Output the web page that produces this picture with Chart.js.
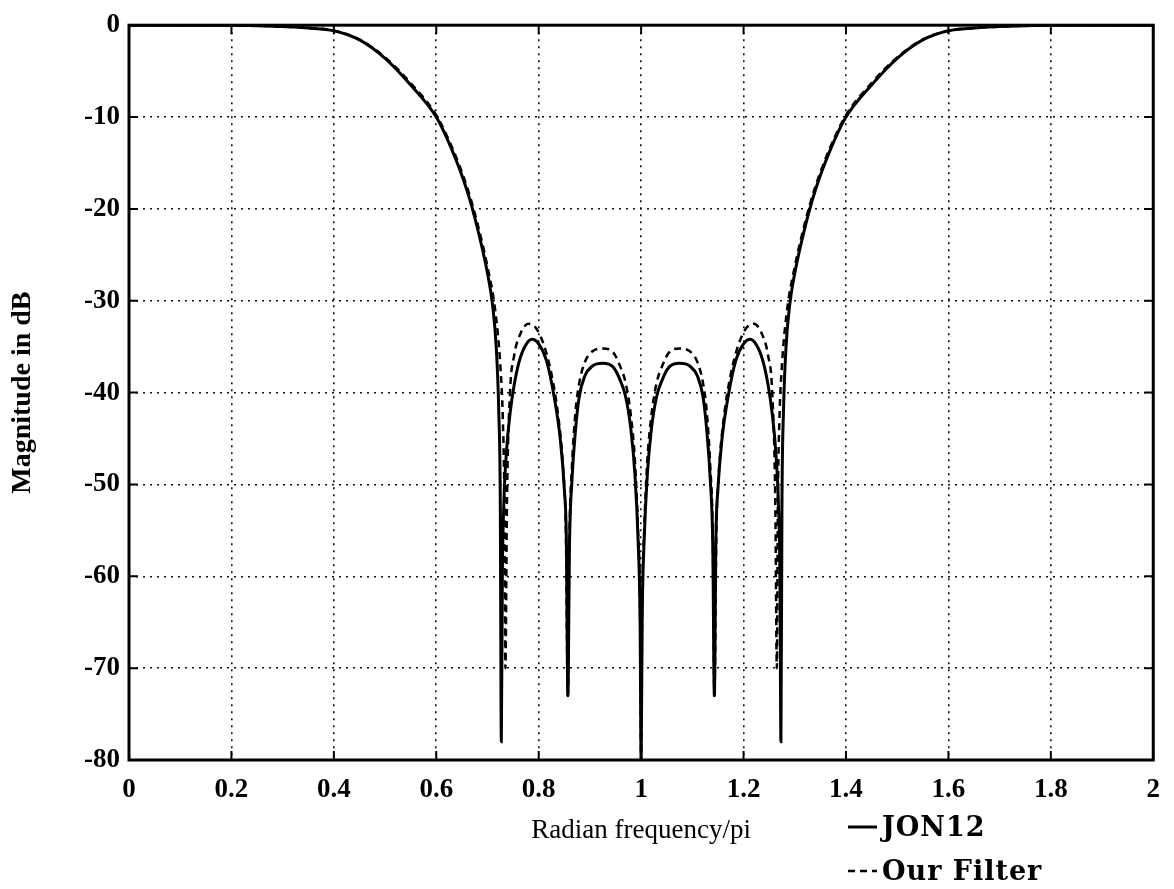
<!DOCTYPE html>
<html lang="en">
<head>
  <meta charset="UTF-8">
  <title>Magnitude Response</title>
  <script src="https://cdn.jsdelivr.net/npm/chart.js"></script>
  <style>
    body { margin: 0; background: #fff; }
    canvas { display: block; }
  </style>
</head>
<body>
  <canvas id="magChart" width="1174" height="889"></canvas>
  <script>
    // JON12 response (frequency / pi, dB)
    const jonFreq = [0, 0.1, 0.2, 0.25, 0.3, 0.35, 0.4, 0.45, 0.5, 0.55, 0.6, 0.63, 0.66, 0.68, 0.7, 0.71, 0.717, 0.722, 0.725, 0.727,
      0.729, 0.732, 0.737, 0.744, 0.752, 0.762, 0.775, 0.787, 0.8, 0.815, 0.83, 0.842, 0.85, 0.854, 0.857,
      0.86, 0.865, 0.872, 0.879, 0.89, 0.905, 0.925, 0.945, 0.958, 0.97, 0.98, 0.988, 0.994, 0.998, 1.0,
      1.002, 1.006, 1.012, 1.02, 1.03, 1.042, 1.055, 1.075, 1.095, 1.11, 1.121, 1.128, 1.135, 1.14, 1.143,
      1.146, 1.15, 1.158, 1.17, 1.185, 1.2, 1.213, 1.225, 1.238, 1.248, 1.256, 1.263, 1.268, 1.271, 1.273,
      1.275, 1.278, 1.283, 1.29, 1.3, 1.32, 1.34, 1.37, 1.4, 1.45, 1.5, 1.55, 1.6, 1.65, 1.7, 1.75, 1.8, 1.9, 2];
    const jonMag = [0, 0, 0, -0.05, -0.15, -0.3, -0.6, -1.6, -3.6, -6.5, -10, -13.5, -18, -22, -27, -30.5, -35, -42, -52, -78,
      -60, -52, -46.5, -42.3, -39.2, -36.6, -34.8, -34.2, -34.7, -36.5, -40.4, -45, -50.5, -56, -73,
      -57, -49.5, -44, -40.5, -38.2, -37.1, -36.8, -37.2, -38.5, -40.5, -44, -49, -56, -65, -80,
      -65, -56, -49, -44, -40.5, -38.5, -37.2, -36.8, -37.1, -38.2, -40.5, -44, -49.5, -57, -73,
      -56, -50.5, -45, -40.4, -36.5, -34.7, -34.2, -34.8, -36.6, -39.2, -42.3, -46.5, -52, -60, -78,
      -52, -42, -35, -30.5, -27, -22, -18, -13.5, -10, -6.5, -3.6, -1.6, -0.6, -0.3, -0.15, -0.05, 0, 0, 0];

    // Our filter
    const ourFreq = [0, 0.1, 0.2, 0.25, 0.3, 0.35, 0.4, 0.45, 0.5, 0.55, 0.6, 0.63, 0.66, 0.68, 0.7, 0.715, 0.725, 0.73, 0.733, 0.735,
      0.738, 0.744, 0.752, 0.765, 0.78, 0.795, 0.81, 0.825, 0.838, 0.848, 0.853, 0.857,
      0.86, 0.865, 0.872, 0.879, 0.89, 0.905, 0.925, 0.945, 0.958, 0.97, 0.98, 0.988, 0.994, 0.998, 1.0,
      1.002, 1.006, 1.012, 1.02, 1.03, 1.042, 1.055, 1.075, 1.095, 1.11, 1.121, 1.128, 1.135, 1.14, 1.143,
      1.147, 1.152, 1.162, 1.175, 1.19, 1.205, 1.22, 1.235, 1.248, 1.256, 1.262, 1.265,
      1.267, 1.27, 1.275, 1.285, 1.3, 1.32, 1.34, 1.37, 1.4, 1.45, 1.5, 1.55, 1.6, 1.65, 1.7, 1.75, 1.8, 1.9, 2];
    const ourMag = [0, 0, 0, -0.05, -0.15, -0.3, -0.6, -1.55, -3.5, -6.3, -9.8, -13.2, -17.6, -21.5, -26.3, -31, -37, -43, -52, -70,
      -52, -40, -36, -33.5, -32.5, -33, -34.8, -38, -42.5, -48.5, -55, -73,
      -56, -48, -42, -39, -36.7, -35.5, -35.2, -35.6, -37, -39, -42.5, -47.5, -55, -64, -80,
      -64, -55, -47.5, -42.5, -39, -37, -35.6, -35.2, -35.5, -36.7, -39, -42, -48, -56, -73,
      -55, -48.5, -42.5, -38, -34.8, -33, -32.5, -33.5, -36, -40, -52, -70,
      -52, -43, -37, -31, -26.3, -21.5, -17.6, -13.2, -9.8, -6.3, -3.5, -1.55, -0.6, -0.3, -0.15, -0.05, 0, 0, 0];

    const xTicks = [0, 0.2, 0.4, 0.6, 0.8, 1, 1.2, 1.4, 1.6, 1.8, 2];
    const yTicks = [0, -10, -20, -30, -40, -50, -60, -70, -80];

    const serif = "'Liberation Serif', 'Times New Roman', serif";
    const toPoints = (xs, ys) => xs.map((x, i) => ({ x: x, y: ys[i] }));

    // frame, inward tick marks and the legend at the lower right
    const framePlugin = {
      id: 'frame',
      afterDraw(chart) {
        const { ctx, chartArea: a, scales } = chart;
        ctx.save();
        ctx.strokeStyle = '#000';
        ctx.lineWidth = 2;
        xTicks.forEach(v => {
          const px = scales.x.getPixelForValue(v);
          ctx.beginPath();
          ctx.moveTo(px, a.top); ctx.lineTo(px, a.top + 9);
          ctx.moveTo(px, a.bottom); ctx.lineTo(px, a.bottom - 9);
          ctx.stroke();
        });
        yTicks.forEach(v => {
          const py = scales.y.getPixelForValue(v);
          ctx.beginPath();
          ctx.moveTo(a.left, py); ctx.lineTo(a.left + 9, py);
          ctx.moveTo(a.right, py); ctx.lineTo(a.right - 9, py);
          ctx.stroke();
        });
        ctx.lineWidth = 3;
        ctx.strokeRect(a.left, a.top, a.right - a.left, a.bottom - a.top);

        // legend
        const lx = 848, lw = 29;
        chart.data.datasets.forEach((ds, i) => {
          const y = 827 + i * 44;
          ctx.beginPath();
          ctx.lineWidth = ds.borderWidth;
          ctx.setLineDash(ds.borderDash || []);
          ctx.moveTo(lx, y);
          ctx.lineTo(lx + lw, y);
          ctx.stroke();
          ctx.setLineDash([]);
          ctx.fillStyle = '#000';
          ctx.font = "bold 27px 'DejaVu Serif', serif";
          ctx.letterSpacing = '1px';
          ctx.textBaseline = 'alphabetic';
          ctx.fillText(ds.label, lx + lw + 5, y + 9);
        });
        ctx.restore();
      }
    };

    const dotted = { display: false, dash: [2, 5] };
    const dottedGrid = { color: '#111', lineWidth: 1.6, drawTicks: false };

    const ctx = document.getElementById('magChart').getContext('2d');
    new Chart(ctx, {
      type: 'line',
      data: {
        datasets: [{
          label: 'JON12',
          data: toPoints(jonFreq, jonMag),
          borderColor: '#000',
          borderWidth: 3,
          pointRadius: 0,
          cubicInterpolationMode: 'monotone',
          fill: false
        }, {
          label: 'Our Filter',
          data: toPoints(ourFreq, ourMag),
          borderColor: '#000',
          borderWidth: 2.5,
          borderDash: [7, 5],
          pointRadius: 0,
          cubicInterpolationMode: 'monotone',
          fill: false
        }]
      },
      options: {
        responsive: false,
        animation: false,
        layout: { padding: { top: 23, right: 13, left: 0, bottom: 0 } },
        plugins: {
          legend: { display: false },
          tooltip: { enabled: false }
        },
        scales: {
          x: {
            type: 'linear',
            min: 0,
            max: 2,
            afterBuildTicks: s => { s.ticks = xTicks.map(v => ({ value: v })); },
            afterFit: s => { s.height = 129; },
            border: dotted,
            grid: dottedGrid,
            ticks: {
              color: '#000',
              padding: 14,
              maxRotation: 0,
              font: { family: serif, size: 27, weight: 'bold' },
              callback: v => String(+v.toFixed(1))
            },
            title: {
              display: true,
              text: 'Radian frequency/pi',
              color: '#000',
              padding: { bottom: 42 },
              font: { family: serif, size: 27 }
            }
          },
          y: {
            min: -80,
            max: 0,
            afterBuildTicks: s => { s.ticks = yTicks.map(v => ({ value: v })); },
            afterFit: s => { s.width = 129; },
            border: dotted,
            grid: dottedGrid,
            ticks: {
              color: '#000',
              padding: 9,
              font: { family: serif, size: 27, weight: 'bold' }
            },
            title: {
              display: true,
              text: 'Magnitude in dB',
              color: '#000',
              padding: { top: 6 },
              font: { family: serif, size: 28, weight: 'bold' }
            }
          }
        }
      },
      plugins: [framePlugin]
    });
  </script>
</body>
</html>
